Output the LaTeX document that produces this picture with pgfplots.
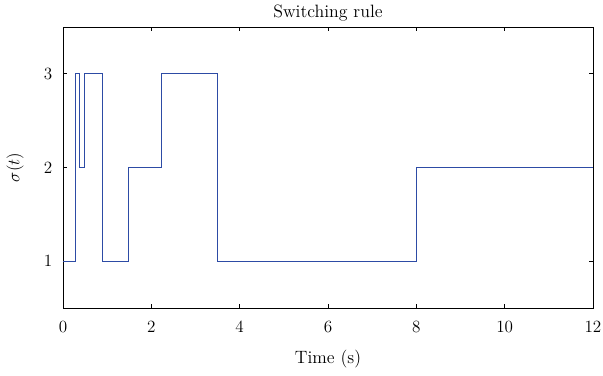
\documentclass[border=0pt]{standalone}
\usepackage{pgfplots}
\pgfplotsset{compat=1.18}
\usetikzlibrary{calc}
\definecolor{lineblue}{RGB}{45,75,165}
\begin{document}
\begin{tikzpicture}
\begin{axis}[
  name=ax,
  scale only axis,
  width=371pt, height=196.7pt,
  xmin=0, xmax=12, ymin=0.5, ymax=3.5,
  xtick={0,2,...,12}, ytick={1,2,3},
  tick align=inside,
  major tick length=3pt,
  tick style={black, line width=0.5pt},
  axis line style={black, line width=0.6pt},
  title={Switching rule},
  title style={at={(axis description cs:0.5,1)}, anchor=base, yshift=0.7pt, font=\fontsize{12.5}{14}\selectfont},
  xlabel={Time (s)},
  ylabel={$\sigma(t)$},
  label style={font=\fontsize{12.5}{14}\selectfont},
  xlabel style={at={(axis description cs:0.5,0)}, anchor=base, yshift=-38.5pt},
  ylabel style={at={(axis description cs:0,0.5)}, anchor=center, yshift=33.6pt},
  tick label style={font=\fontsize{12.5}{14}\selectfont},
  xticklabel style={anchor=center, yshift=-13.6pt},
  yticklabel style={anchor=center, xshift=-10.5pt},
]
\addplot[const plot, color=lineblue, line width=0.65pt] coordinates {
(0,1) (0.28,3) (0.38,2) (0.48,3) (0.89,1) (1.48,2) (2.24,3) (3.5,1) (8,2) (12,2)
};
\end{axis}
\pgfresetboundingbox
\path ($(ax.south west)+(-44.1pt,-46.9pt)$) rectangle ($(ax.north east)+(7pt,18.9pt)$);
\end{tikzpicture}
\end{document}
